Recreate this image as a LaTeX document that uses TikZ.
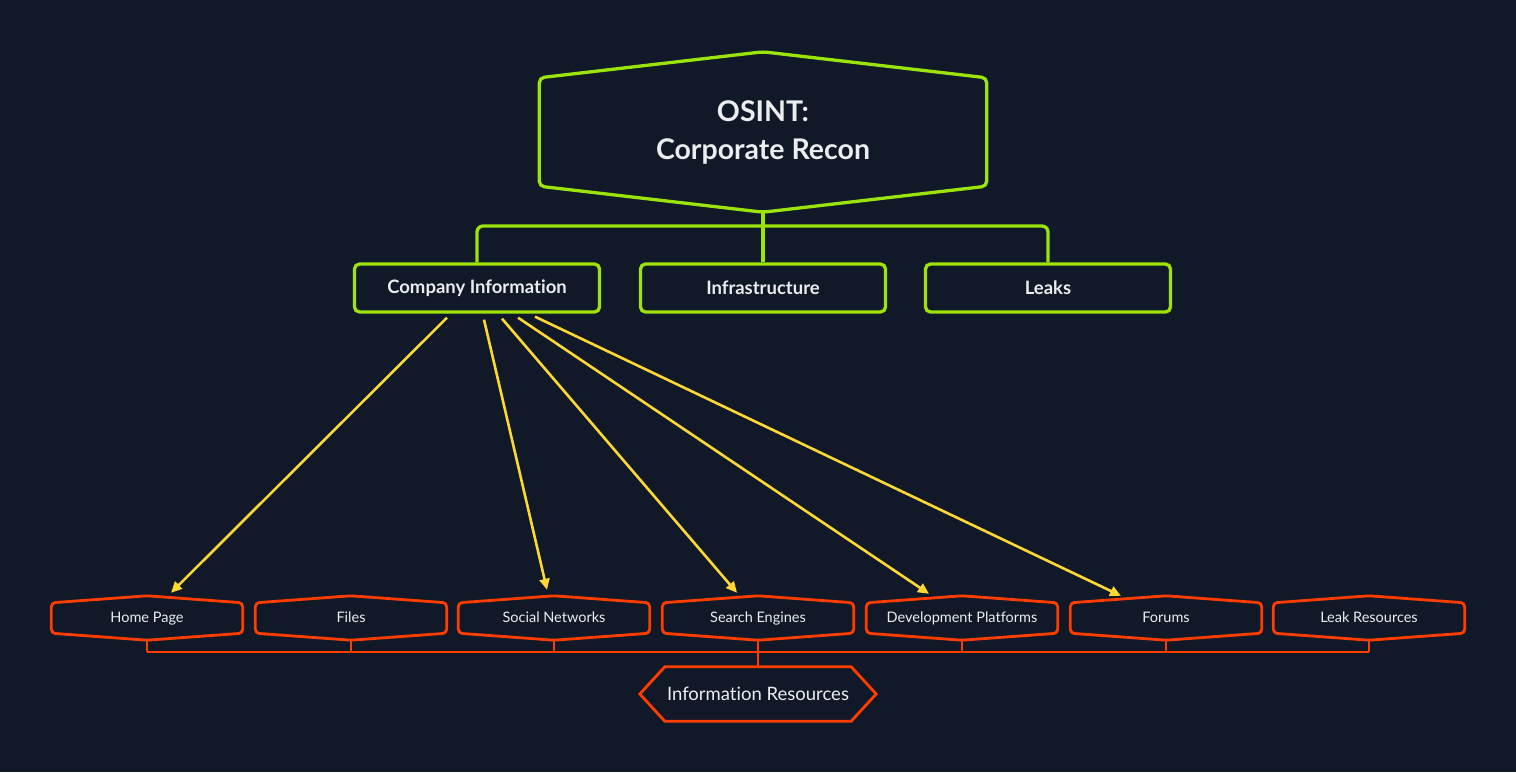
\documentclass[tikz,border=0pt]{standalone}
\usepackage{fontspec}
\setmainfont{Lato}[Ligatures=NoCommon]
\usetikzlibrary{arrows.meta, positioning, calc}
\definecolor{bgnavy}{HTML}{111827}
\definecolor{limegreen}{HTML}{9BE30B}
\definecolor{fireorange}{HTML}{FF3D00}
\definecolor{arrowyellow}{HTML}{FDD835}
\definecolor{labelwhite}{HTML}{ECEDEF}

\begin{document}
\begin{tikzpicture}[x=1pt, y=-1pt,
                topic/.style={draw=limegreen, line width=3.3pt, rounded corners=5pt, text=labelwhite,
                              minimum width=245pt, minimum height=48pt, font=\fontsize{18.5}{22}\selectfont\bfseries}, % Second level boxes
                greenline/.style={draw=limegreen, line width=3.3pt},
                srcline/.style={draw=fireorange, line width=2.8pt},
                source/.style={text=labelwhite, minimum width=191pt, minimum height=30pt, inner sep=0pt,
                               text height=12pt, text depth=2.5pt,
                               font=\fontsize{14.5}{17}\selectfont}, % Small hexagon nodes
                pointer/.style={draw=arrowyellow, line width=2.6pt, -{Triangle[length=11pt, width=10pt]}, arrowyellow}
                ]
                \fill[bgnavy] (0,0) rectangle (1516,772);
                \useasboundingbox (0,0) rectangle (1516,772);

                % Root hexagon
                \node[text=labelwhite, align=center, minimum width=447pt, minimum height=108pt,
                      font=\fontsize{28.5}{38}\selectfont\bfseries] (osint) at (763,132) {OSINT:\\Corporate Recon};
                \draw[greenline, rounded corners=5pt] (osint.north west) -- ([yshift=26pt]osint.north) -- (osint.north east)
                    -- (osint.south east) -- ([yshift=-26pt]osint.south) -- (osint.south west) -- cycle;
                \coordinate (osint-tip) at ([yshift=-26pt]osint.south);

                % Second level
                \node[topic] (company) at (477,288) {Company Information};
                \node[topic] (infra) at (763,288) {Infrastructure};
                \node[topic] (leaks) at (1048,288) {Leaks};
                \coordinate (gbus) at (763,226);
                \draw[greenline] (osint-tip) -- (infra.north);
                \draw[greenline, rounded corners=6pt] (company.north) |- (gbus) -| (leaks.north);

                % Information sources
                \coordinate (rbus) at (758,652);
                \foreach \name/\xpos/\lbl in {home/147/Home Page, files/351/Files, social/554/Social Networks,
                                              search/758/Search Engines, devplat/962/Development Platforms,
                                              forums/1166/Forums, leakres/1369/Leak Resources}{
                    \node[source] (\name) at (\xpos,618) {\lbl};
                    \draw[srcline, rounded corners=4pt] (\name.north west) -- ([yshift=7pt]\name.north) -- (\name.north east)
                        -- (\name.south east) -- ([yshift=-7pt]\name.south) -- (\name.south west) -- cycle;
                    \coordinate (\name-tip) at ([yshift=-7pt]\name.south);
                    \draw[srcline] (\name-tip) -- (\name-tip |- rbus);
                }
                \draw[srcline] (home-tip |- rbus) -- (leakres-tip |- rbus);

                % Resource hexagon
                \node[text=labelwhite, minimum width=186pt, minimum height=54pt, inner sep=0pt,
                      font=\fontsize{18.5}{22}\selectfont] (res) at (758,694) {Information Resources};
                \draw[srcline] (res.north west) -- (res.north east) -- ([xshift=25pt]res.east) -- (res.south east)
                    -- (res.south west) -- ([xshift=-25pt]res.west) -- cycle;
                \draw[srcline] (rbus) -- (res.north);

                % Company information arrows
                \draw[pointer] ([xshift=-30pt, yshift=-4pt]company.south) -- ([xshift=24pt, yshift=10pt]home.north);
                \draw[pointer] ([xshift=7pt, yshift=-6pt]company.south) -- ([xshift=-7pt, yshift=13pt]social.north);
                \draw[pointer] ([xshift=25pt, yshift=-5pt]company.south) -- ([xshift=-21pt, yshift=10pt]search.north);
                \draw[pointer] ([xshift=41pt, yshift=-4pt]company.south) -- ([xshift=-33pt, yshift=9pt]devplat.north);
                \draw[pointer] ([xshift=58pt, yshift=-3pt]company.south) -- ([xshift=-45pt, yshift=7pt]forums.north);
\end{tikzpicture}
\end{document}
